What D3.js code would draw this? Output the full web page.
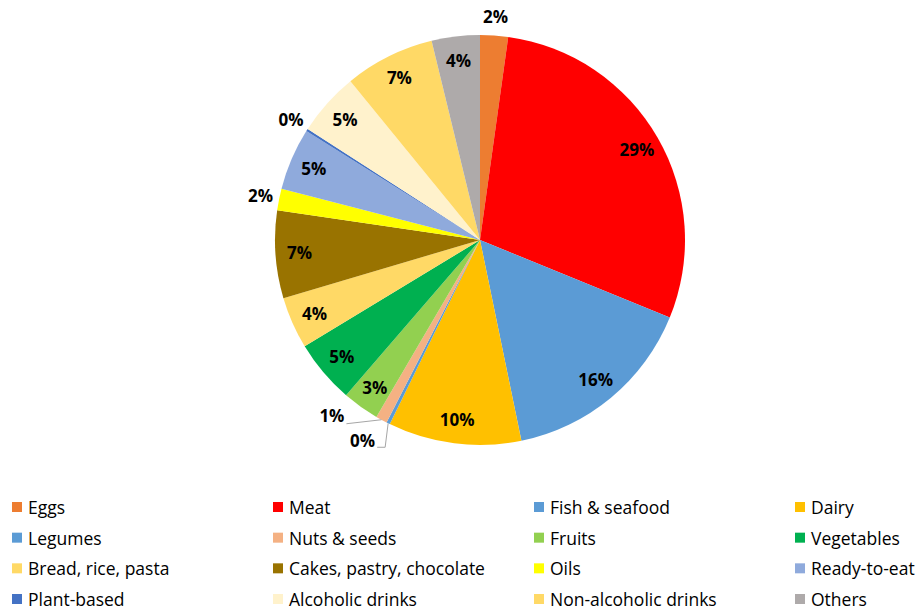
<!DOCTYPE html>
<html><head><meta charset="utf-8">
<script src="https://cdn.jsdelivr.net/npm/d3@7"></script>
<style>body{margin:0;background:#fff;} svg{display:block;}</style>
</head><body>
<svg id="c" width="921" height="613"></svg>
<script>
const categories = ["Eggs","Meat","Fish & seafood","Dairy","Legumes","Nuts & seeds","Fruits","Vegetables","Bread, rice, pasta","Cakes, pastry, chocolate","Oils","Ready-to-eat","Plant-based","Alcoholic drinks","Non-alcoholic drinks","Others"];
const values = [2.2,29.0,15.6,10.5,0.28,0.9,2.9,5.0,4.1,6.9,1.7,4.9,0.2,5.0,7.1,3.8];
const labels = ["2%","29%","16%","10%","0%","1%","3%","5%","4%","7%","2%","5%","0%","5%","7%","4%"];
const colors = ["#ED7D31","#FF0000","#5B9BD5","#FFC000","#5B9BD5","#F4B183","#92D050","#00B050","#FFD966","#997300","#FFFF00","#8FAADC","#4472C4","#FFF2CC","#FFD966","#AEAAAA"];
const outsideLabels = ["Eggs","Oils","Plant-based"];

const svg = d3.select("#c");
const cx = 480, cy = 240, R = 205;
const data = categories.map((c,i)=>({cat:c,v:values[i],lab:labels[i],col:colors[i]}));
const pie = d3.pie().value(d=>d.v).sort(null);
const arcs = pie(data);
const arc = d3.arc().innerRadius(0).outerRadius(R);
const g = svg.append("g").attr("transform",`translate(${cx},${cy})`);
g.selectAll("path").data(arcs).join("path").attr("d",arc).attr("fill",d=>d.data.col);

const font = "'Open Sans', sans-serif";
const lblSize = 17;
const inArc = d3.arc().innerRadius(181).outerRadius(181);
const outArc = d3.arc().innerRadius(224).outerRadius(224);
const edgeArc = d3.arc().innerRadius(R).outerRadius(R);

arcs.forEach(a=>{
  const name = a.data.cat;
  let x,y;
  if (name==="Nuts & seeds" || name==="Legumes") return;
  if (outsideLabels.includes(name)) [x,y] = outArc.centroid(a);
  else [x,y] = inArc.centroid(a);
  g.append("text").attr("x",x).attr("y",y).attr("text-anchor","middle").attr("dominant-baseline","central")
   .attr("font-family",font).attr("font-weight","bold").attr("font-size",lblSize).attr("fill","#000").text(a.data.lab);
});
// leader-lined labels
const nuts = arcs[5], leg = arcs[4];
{
  const [ex,ey] = edgeArc.centroid(nuts);
  const lx = ex-35, ly = ey+4;
  g.append("path").attr("d",`M${ex},${ey}L${lx},${ly}`).attr("stroke","#A6A6A6").attr("fill","none");
  g.append("text").attr("x",lx-2).attr("y",ly-8).attr("text-anchor","end").attr("dominant-baseline","central")
   .attr("font-family",font).attr("font-weight","bold").attr("font-size",lblSize).text(nuts.data.lab);
}
{
  const [ex,ey] = edgeArc.centroid(leg);
  const my = ey+24;
  g.append("path").attr("d",`M${ex},${ey}L${ex-3},${my}L${ex-11},${my}`).attr("stroke","#A6A6A6").attr("fill","none");
  g.append("text").attr("x",ex-13).attr("y",my-7).attr("text-anchor","end").attr("dominant-baseline","central")
   .attr("font-family",font).attr("font-weight","bold").attr("font-size",lblSize).text(leg.data.lab);
}

// legend
const cols = 4;
const colX = d3.scalePoint().domain(d3.range(cols)).range([12,795]);
const rowY = d3.scalePoint().domain(d3.range(4)).range([507,599]);
const lg = svg.append("g");
data.forEach((d,i)=>{
  const x = colX(i%cols), y = rowY(Math.floor(i/cols));
  lg.append("rect").attr("x",x).attr("y",y-5).attr("width",10).attr("height",10).attr("fill",d.col);
  lg.append("text").attr("x",x+16).attr("y",y).attr("dominant-baseline","central")
    .attr("font-family",font).attr("font-size",17.5).attr("fill","#000").text(d.cat);
});
</script>
</body></html>
